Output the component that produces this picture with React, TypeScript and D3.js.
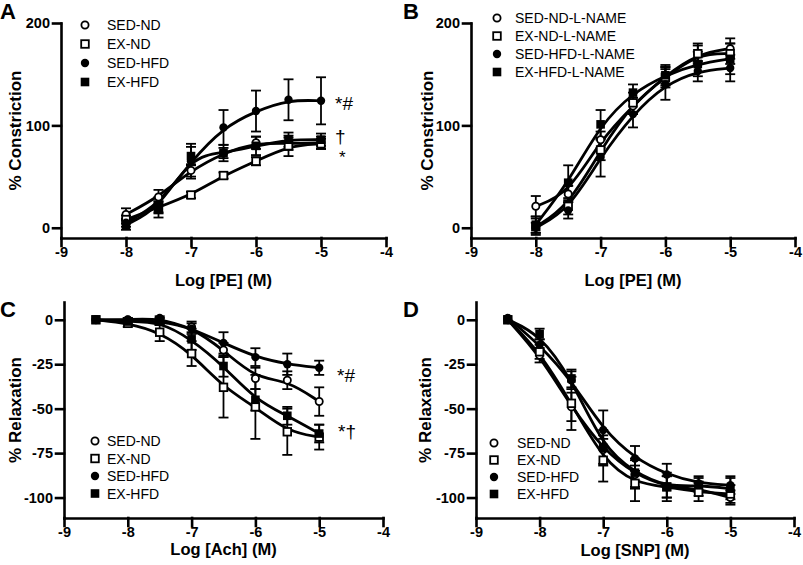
import React, { useEffect, useRef } from "react";
import * as d3 from "d3";

const FONT = "'Liberation Sans', Arial, Helvetica, sans-serif";

// ---- data ---------------------------------------------------------------
const xTicks = [-9, -8, -7, -6, -5, -4];

const dosePE = [-8, -7.5, -7, -6.5, -6, -5.5, -5];
const doseRelax = [-8.5, -8, -7.5, -7, -6.5, -6, -5.5, -5];

// A: PE constriction
const aSedNd = [13, 30, 56, 73, 83, 82, 83];
const aSedNdErr = [6, 7, 6, 5, 6, 6, 6];
const aExNd = [8, 20, 32, 51, 65, 80, 82];
const aExNdErr = [4, 5, 3, 3, 4, 10, 5];
const aSedHfd = [5, 22, 65, 98, 114, 125, 124];
const aSedHfdErr = [4, 8, 17, 17, 20, 20, 23];
const aExHfd = [3, 18, 70, 73, 80, 86, 86];
const aExHfdErr = [5, 8, 9, 8, 9, 7, 6];

// B: PE constriction + L-NAME
const bSedNd = [21, 33, 86, 119, 149, 170, 175];
const bSedNdErr = [10, 8, 8, 8, 8, 8, 10];
const bExNd = [1, 21, 76, 122, 147, 170, 170];
const bExNdErr = [8, 8, 10, 10, 10, 10, 10];
const bSedHfd = [0, 17, 69, 111, 140, 153, 156];
const bSedHfdErr = [5, 8, 19, 13, 15, 10, 13];
const bExHfd = [3, 44, 101, 132, 149, 160, 165];
const bExHfdErr = [8, 17, 14, 8, 10, 12, 15];

// C: Ach relaxation
const cSedNd = [0, 0, -1, -4, -17, -33, -34, -46];
const cSedNdErr = [0, 1, 2, 3, 4, 6, 5, 8];
const cExNd = [0, -2, -7, -19, -38, -49, -63, -66];
const cExNdErr = [0, 2, 5, 7, 17, 18, 13, 7];
const cSedHfd = [0, 0, 1, -5, -13, -21, -25, -27];
const cSedHfdErr = [0, 1, 1, 3, 6, 5, 6, 4];
const cExHfd = [0, -1, -1, -11, -26, -45, -54, -64];
const cExHfdErr = [0, 1, 2, 6, 6, 6, 5, 5];

// D: SNP relaxation
const dSedNd = [0, -20, -49, -73, -87, -94, -95, -100];
const dSedNdErr = [0, 4, 8, 8, 8, 6, 4, 4];
const dExNd = [0, -18, -47, -79, -92, -94, -97, -98];
const dExNdErr = [0, 4, 15, 12, 10, 8, 5, 5];
const dSedHfd = [1, -14, -34, -62, -78, -87, -92, -93];
const dSedHfdErr = [0, 3, 5, 11, 7, 6, 4, 5];
const dExHfd = [0, -8, -33, -72, -86, -94, -93, -95];
const dExHfdErr = [0, 3, 5, 10, 8, 6, 4, 6];

const labelsND = ["SED-ND", "EX-ND", "SED-HFD", "EX-HFD"];
const labelsLN = ["SED-ND-L-NAME", "EX-ND-L-NAME", "SED-HFD-L-NAME", "EX-HFD-L-NAME"];
const shapes = ["oc", "os", "fc", "fs"];

type Series = { label: string; shape: string; x: number[]; y: number[]; err: number[] };

const mk = (labels: string[], x: number[], ys: number[][], errs: number[][]): Series[] =>
    labels.map((l, i) => ({ label: l, shape: shapes[i], x, y: ys[i], err: errs[i] }));

const panels = [
    {
        letter: "A", letterPos: [0, 19],
        xRange: [61, 386], yDomain: [-10, 200], yRange: [238, 23], yTicks: [0, 100, 200],
        xTitle: "Log [PE] (M)", xTitleY: 286, yTitle: "% Constriction", yTitleX: 21,
        legend: { x: 85, tx: 107, y: 25, dy: 19 },
        series: mk(labelsND, dosePE, [aSedNd, aExNd, aSedHfd, aExHfd], [aSedNdErr, aExNdErr, aSedHfdErr, aExHfdErr]),
        notes: [
            { t: "*#", x: 335, y: 110, fs: 19 },
            { t: "†", x: 335, y: 143, fs: 19 },
            { t: "*", x: 339, y: 163, fs: 17 },
        ],
    },
    {
        letter: "B", letterPos: [403, 19],
        xRange: [471, 795], yDomain: [-10, 200], yRange: [238, 23], yTicks: [0, 100, 200],
        xTitle: "Log [PE] (M)", xTitleY: 286, yTitle: "% Constriction", yTitleX: 433,
        legend: { x: 497, tx: 515, y: 18, dy: 18 },
        series: mk(labelsLN, dosePE, [bSedNd, bExNd, bSedHfd, bExHfd], [bSedNdErr, bExNdErr, bSedHfdErr, bExHfdErr]),
        notes: [],
    },
    {
        letter: "C", letterPos: [0, 317],
        xRange: [64, 383], yDomain: [-111.5, 10], yRange: [518, 302], yTicks: [0, -25, -50, -75, -100],
        xTitle: "Log [Ach] (M)", xTitleY: 555, yTitle: "% Relaxation", yTitleX: 21,
        legend: { x: 95, tx: 107, y: 441, dy: 17.5 },
        series: mk(labelsND, doseRelax, [cSedNd, cExNd, cSedHfd, cExHfd], [cSedNdErr, cExNdErr, cSedHfdErr, cExHfdErr]),
        notes: [
            { t: "*#", x: 337, y: 382, fs: 19 },
            { t: "*†", x: 338, y: 438, fs: 19 },
        ],
    },
    {
        letter: "D", letterPos: [403, 317],
        xRange: [476, 794], yDomain: [-111.5, 10], yRange: [518, 302], yTicks: [0, -25, -50, -75, -100],
        xTitle: "Log [SNP] (M)", xTitleY: 556, yTitle: "% Relaxation", yTitleX: 431,
        legend: { x: 494, tx: 517, y: 443, dy: 17 },
        series: mk(labelsND, doseRelax, [dSedNd, dExNd, dSedHfd, dExHfd], [dSedNdErr, dExNdErr, dSedHfdErr, dExHfdErr]),
        notes: [],
    },
];

// ---- drawing ------------------------------------------------------------
function marker(g: any, cx: number, cy: number, shape: string) {
    if (shape === "oc")
        g.append("circle").attr("cx", cx).attr("cy", cy).attr("r", 3.6)
            .attr("fill", "white").attr("stroke", "black").attr("stroke-width", 1.8);
    else if (shape === "fc")
        g.append("circle").attr("cx", cx).attr("cy", cy).attr("r", 4.2).attr("fill", "black");
    else if (shape === "os")
        g.append("rect").attr("x", cx - 3.8).attr("y", cy - 3.8).attr("width", 7.6).attr("height", 7.6)
            .attr("fill", "white").attr("stroke", "black").attr("stroke-width", 1.8);
    else
        g.append("rect").attr("x", cx - 4.3).attr("y", cy - 4.3).attr("width", 8.6).attr("height", 8.6)
            .attr("fill", "black");
}

function drawPanel(svg: any, p: any) {
    const x = d3.scaleLinear().domain([-9, -4]).range(p.xRange);
    const y = d3.scaleLinear().domain(p.yDomain).range(p.yRange);
    const g = svg.append("g");

    // error bars
    const eb = g.append("g").attr("stroke", "black").attr("stroke-width", 1.8);
    p.series.forEach((s: Series) => {
        s.x.forEach((xv, i) => {
            const e = s.err[i];
            if (!e) return;
            const px = x(xv), y1 = y(s.y[i] - e), y2 = y(s.y[i] + e);
            eb.append("line").attr("x1", px).attr("x2", px).attr("y1", y1).attr("y2", y2);
            eb.append("line").attr("x1", px - 5).attr("x2", px + 5).attr("y1", y1).attr("y2", y1);
            eb.append("line").attr("x1", px - 5).attr("x2", px + 5).attr("y1", y2).attr("y2", y2);
        });
    });

    // fitted curves (smoothed through the means)
    p.series.forEach((s: Series) => {
        const pts: [number, number][] = s.x.map((xv, i) => [x(xv), y(s.y[i])]);
        g.append("path")
            .attr("d", d3.line().curve(d3.curveBasis)(pts))
            .attr("fill", "none")
            .attr("stroke", "black")
            .attr("stroke-width", 2.8);
    });

    // markers
    const mg = g.append("g");
    p.series.forEach((s: Series) => {
        s.x.forEach((xv, i) => marker(mg, x(xv), y(s.y[i]), s.shape));
    });

    // axes
    const styleAxis = (a: any) => {
        a.attr("font-family", FONT).attr("font-size", 14.5).attr("font-weight", "bold");
        a.selectAll("path, line").attr("stroke", "black").attr("stroke-width", 2.6)
            .attr("stroke-linecap", "square");
        a.selectAll("text").attr("fill", "black");
    };
    const xa = g.append("g").attr("transform", `translate(0,${p.yRange[0]})`)
        .call(d3.axisBottom(x).tickValues(xTicks).tickFormat((d: any) => String(d))
            .tickSize(8).tickSizeOuter(0).tickPadding(1));
    styleAxis(xa);
    const ya = g.append("g").attr("transform", `translate(${p.xRange[0]},0)`)
        .call(d3.axisLeft(y).tickValues(p.yTicks).tickFormat((d: any) => String(d))
            .tickSize(8).tickSizeOuter(0).tickPadding(3));
    styleAxis(ya);

    // titles
    g.append("text")
        .attr("x", (p.xRange[0] + p.xRange[1]) / 2).attr("y", p.xTitleY)
        .attr("text-anchor", "middle")
        .attr("font-family", FONT).attr("font-size", 16.5).attr("font-weight", "bold")
        .text(p.xTitle);
    g.append("text")
        .attr("transform", `translate(${p.yTitleX},${(p.yRange[0] + p.yRange[1]) / 2}) rotate(-90)`)
        .attr("text-anchor", "middle")
        .attr("font-family", FONT).attr("font-size", 17).attr("font-weight", "bold")
        .text(p.yTitle);
    g.append("text")
        .attr("x", p.letterPos[0]).attr("y", p.letterPos[1])
        .attr("font-family", FONT).attr("font-size", 22).attr("font-weight", "bold")
        .text(p.letter);

    // legend
    const lg = g.append("g");
    p.series.forEach((s: Series, i: number) => {
        const ly = p.legend.y + i * p.legend.dy;
        marker(lg, p.legend.x, ly, s.shape);
        lg.append("text")
            .attr("x", p.legend.tx).attr("y", ly + 5)
            .attr("font-family", FONT).attr("font-size", 14)
            .text(s.label);
    });

    // significance marks
    p.notes.forEach((n: any) => {
        g.append("text").attr("x", n.x).attr("y", n.y)
            .attr("font-family", FONT).attr("font-size", n.fs)
            .text(n.t);
    });
}

export default function App() {
    const ref = useRef<SVGSVGElement>(null);
    useEffect(() => {
        const svg = d3.select(ref.current);
        svg.selectAll("*").remove();
        panels.forEach((p) => drawPanel(svg, p));
    }, []);
    return (
        <svg ref={ref} width={803} height={565}
            style={{ position: "absolute", left: 0, top: 0, background: "white" }} />
    );
}
